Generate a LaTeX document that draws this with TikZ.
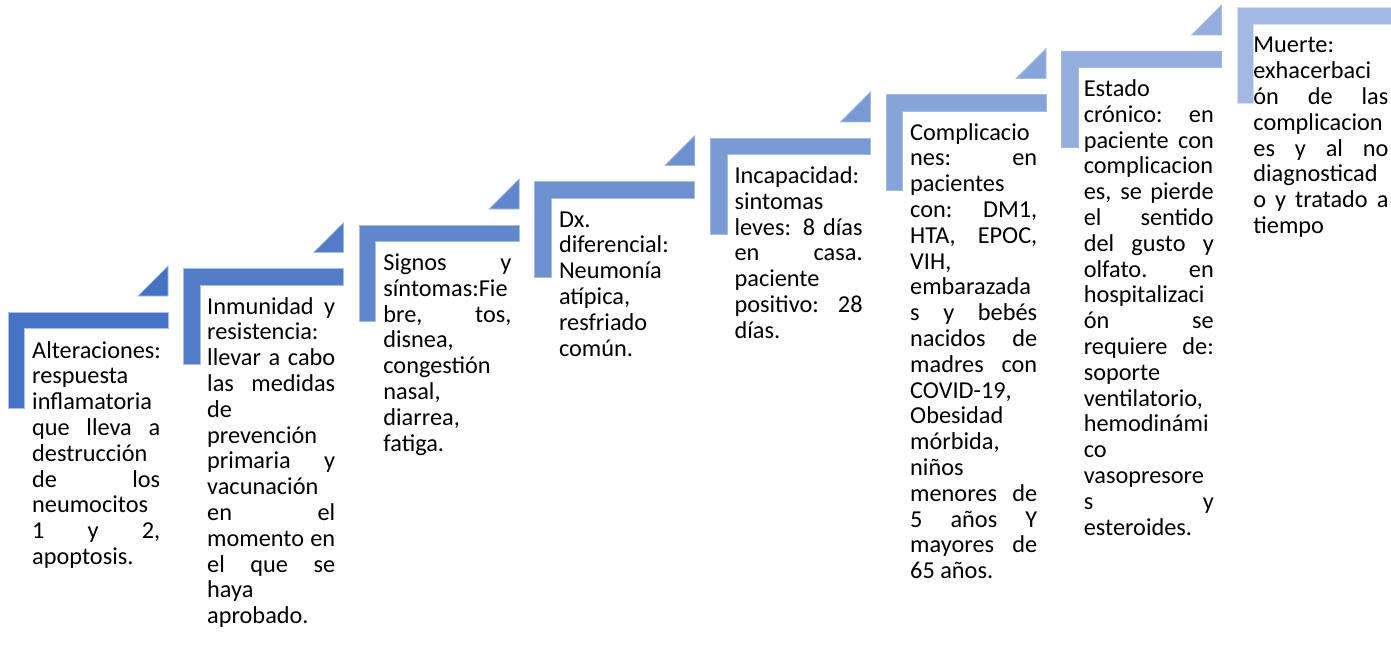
\documentclass[tikz,border=0pt]{standalone}
\usepackage{fontspec}
\setmainfont{Carlito}
\definecolor{cA}{RGB}{68,114,196}
\definecolor{cB}{RGB}{163,184,226}
\newlength\colw
\newcommand\J[1]{\hbox{\makebox[\colw][s]{#1}}}
\newcommand\T[1]{\hbox{#1}}
\tikzset{
  stepshape/.style={fill=#1, draw=white!55!#1, line width=0.7pt},
  steptxt/.style={anchor=base west, inner sep=0pt, text=black}
}
\newcommand\stepL[3]{%
  \path[stepshape=#3] (#1,#2) -- ++(160,0) -- ++(0,16.5) -- ++(-143.5,0) -- ++(0,79.5) -- ++(-16.5,0) -- cycle;
  \path[stepshape=#3] (#1+130,#2-16) -- ++(30,0) -- ++(0,-30) -- cycle;}
\newcommand\steptext[5]{%
  \node[steptxt] (#1) at (#2,#3) {\setlength\colw{#4pt}\vtop{\fontsize{24.3}{25.8}\selectfont\baselineskip=25.8pt\lineskiplimit=-30pt #5}};}
\begin{document}
\begin{tikzpicture}[x=1pt,y=-1pt]
\useasboundingbox (0,0) rectangle (1391,666);
\clip (0,0) rectangle (1391,666);
\fill[white] (0,0) rectangle (1391,666);
\stepL{8}{312}{cA}
\stepL{183.6}{268.5}{cA!86!cB}
\stepL{359.2}{225}{cA!71!cB}
\stepL{534.8}{181.5}{cA!57!cB}
\stepL{710.4}{138}{cA!43!cB}
\stepL{886}{94.5}{cA!29!cB}
\stepL{1061.6}{51}{cA!14!cB}
\stepL{1237.2}{7.5}{cB}

\steptext{t1}{32}{358}{128}{\T{Alteraciones:}\T{respuesta}\T{inflamatoria}\J{que lleva a}\T{destrucción}\J{de los}\T{neumocitos}\J{1 y 2,}\T{apoptosis.}}
\steptext{t2}{207}{314}{128}{\J{Inmunidad y}\T{resistencia:}\J{llevar a cabo}\J{las medidas}\T{de}\T{prevención}\J{primaria y}\T{vacunación}\J{en el}\J{momento en}\J{el que se}\T{haya}\T{aprobado.}}
\steptext{t3}{383.2}{270.5}{128}{\J{Signos y}\T{síntomas:Fie}\J{bre, tos,}\T{disnea,}\T{congestión}\T{nasal,}\T{diarrea,}\T{fatiga.}}
\steptext{t4}{558.8}{227}{128}{\T{Dx.}\T{diferencial:}\T{Neumonía}\T{atípica,}\T{resfriado}\T{común.}}
\steptext{t5}{734.4}{183.5}{128}{\T{Incapacidad:}\T{sintomas}\J{leves: 8 días}\J{en casa.}\T{paciente}\J{positivo: 28}\T{días.}}
\steptext{t6}{910}{140}{127}{\T{Complicacio}\J{nes: en}\T{pacientes}\J{con: DM1,}\J{HTA, EPOC,}\T{VIH,}\T{embarazada}\J{s y bebés}\J{nacidos de}\J{madres con}\T{COVID-19,}\T{Obesidad}\T{mórbida,}\T{niños}\J{menores de}\J{5 años Y}\J{mayores de}\T{65 años.}}
\steptext{t7}{1083.6}{96.5}{130}{\T{Estado}\J{crónico: en}\J{paciente con}\T{complicacion}\J{es, se pierde}\J{el sentido}\J{del gusto y}\J{olfato. en}\T{hospitalizaci}\J{ón se}\J{requiere de:}\T{soporte}\T{ventilatorio,}\T{hemodinámi}\T{co}\T{vasopresore}\J{s y}\T{esteroides.}}
\steptext{t8}{1253.2}{53}{135}{\T{Muerte:}\T{exhacerbaci}\J{ón de las}\T{complicacion}\J{es y al no}\T{diagnosticad}\J{o y tratado a}\T{tiempo}}
\end{tikzpicture}
\end{document}
